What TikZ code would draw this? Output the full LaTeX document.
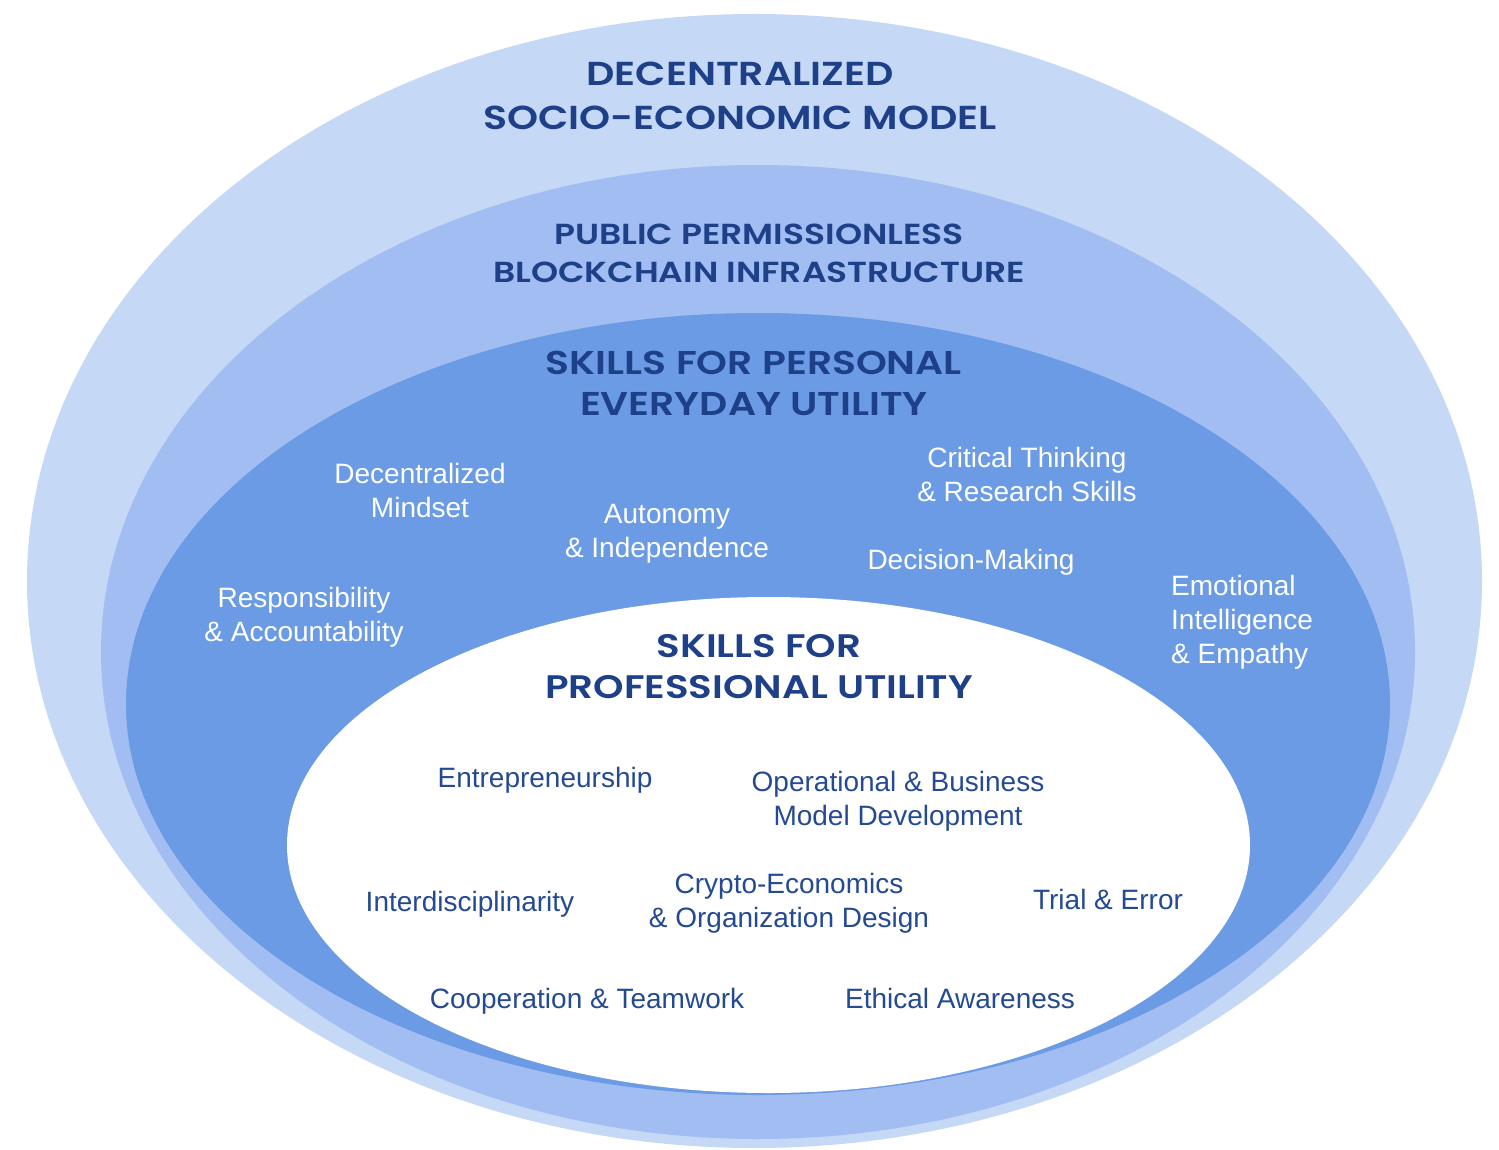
\documentclass[tikz,border=0pt]{standalone}
\usepackage{fontspec}
\setmainfont{Liberation Sans}
\newfontfamily\headfont{Poppins}[FakeStretch=1.19, BoldFont={Poppins SemiBold}]
\definecolor{outerc}{RGB}{197,216,246}
\definecolor{midc}{RGB}{161,189,242}
\definecolor{bandc}{RGB}{106,155,228}
\definecolor{navy}{RGB}{30,64,136}
\definecolor{bodyc}{RGB}{36,74,146}
\tikzset{
  headtxt/.style 2 args={font=\headfont\bfseries\fontsize{#1}{#2}\selectfont, text=navy, align=center, inner sep=0pt},
  whitetxt/.style={font=\fontsize{28}{34}\selectfont, text=white, align=center, inner sep=0pt},
  bluetxt/.style={font=\fontsize{28}{34}\selectfont, text=bodyc, align=center, inner sep=0pt}
}
\begin{document}
\begin{tikzpicture}[x=1pt,y=-1pt]
\useasboundingbox (0,0) rectangle (1499,1150);
\fill[outerc] (754.5,581) ellipse [x radius=727.5pt, y radius=567pt];
\fill[midc] (758,652) ellipse [x radius=657pt, y radius=487pt];
\fill[bandc] (758,704) ellipse [x radius=632pt, y radius=391pt];
\fill[white] (768.5,845) ellipse [x radius=481.5pt, y radius=248pt];

\node[headtxt={33.2}{44}] (h1) at (740,96) {DECENTRALIZED\\SOCIO-ECONOMIC MODEL};
\node[headtxt={29}{38}] (h2) at (759,253) {PUBLIC PERMISSIONLESS\\BLOCKCHAIN INFRASTRUCTURE};
\node[headtxt={33}{41}] (h3) at (754,383) {SKILLS FOR PERSONAL\\EVERYDAY UTILITY};
\node[headtxt={32.6}{41}] (h4) at (759,667) {SKILLS FOR\\PROFESSIONAL UTILITY};

\node[whitetxt] (dm) at (420,490) {Decentralized\\Mindset};
\node[whitetxt] (ra) at (304,617) {Responsibility\\\& Accountability};
\node[whitetxt] (ai) at (667,534) {Autonomy\\\& Independence};
\node[whitetxt] (ct) at (1027,474) {Critical Thinking\\\& Research Skills};
\node[whitetxt] (dec) at (971,562) {Decision-Making};
\node[whitetxt, align=left, anchor=west] (ei) at (1171,622) {Emotional\\Intelligence\\\& Empathy};

\node[bluetxt] (en) at (545,780) {Entrepreneurship};
\node[bluetxt] (ob) at (898,801) {Operational \& Business\\Model Development};
\node[bluetxt] (id) at (470,904) {Interdisciplinarity};
\node[bluetxt] (ce) at (789,903) {Crypto-Economics\\\& Organization Design};
\node[bluetxt] (te) at (1108,899) {Trial \& Error};
\node[bluetxt] (ct2) at (587,1001) {Cooperation \& Teamwork};
\node[bluetxt] (ea) at (960,998) {Ethical Awareness};
\end{tikzpicture}
\end{document}
